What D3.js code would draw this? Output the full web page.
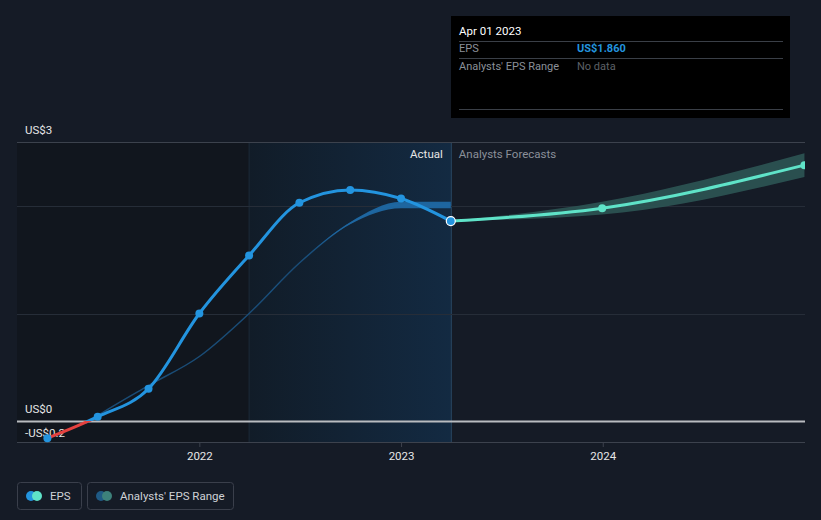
<!DOCTYPE html>
<html><head><meta charset="utf-8">
<script src="https://cdn.jsdelivr.net/npm/d3@7/dist/d3.min.js"></script>
<style>
html,body{margin:0;padding:0;background:#151b26;}
svg{display:block;font-family:Roboto,"Noto Sans",sans-serif;}
</style></head><body>
<svg id="c" width="821" height="520"></svg>
<script>
// ---- data ----
const actualDates = ["2021-04-01","2021-07-01","2021-10-01","2022-01-01","2022-04-01","2022-07-01","2022-10-01","2023-01-01","2023-04-01"];
const epsActual   = [-0.16, 0.04, 0.30, 1.00, 1.54, 2.03, 2.15, 2.07, 1.86];
const pastEstDates = ["2021-06-10","2021-07-01","2021-10-01","2022-01-01","2022-04-01","2022-07-01","2022-10-01","2023-01-01","2023-04-01"];
const pastEst      = [-0.02, 0.05, 0.33, 0.60, 1.00, 1.47, 1.84, 2.01, 2.01];
const pastEstLow   = [-0.02, 0.05, 0.33, 0.60, 1.00, 1.47, 1.83, 1.98, 1.98];
const pastEstHigh  = [-0.02, 0.05, 0.33, 0.60, 1.00, 1.47, 1.85, 2.04, 2.04];
const fcDates = ["2023-04-01","2023-12-31","2024-12-31"];
const fcEps   = [1.86, 1.98, 2.38];
const fcLow   = [1.86, 1.92, 2.27];
const fcHigh  = [1.86, 2.04, 2.49];
const yTickVals = [0, 1, 2, 2.6];
const yLabels = [{v:2.6, t:"US$3"},{v:0, t:"US$0"},{v:-0.2, t:"-US$0.2"}];
const xTicks = ["2022-01-01","2023-01-01","2024-01-01"];
const xTickLabels = ["2022","2023","2024"];
const regionStart = "2022-04-01", todayDate = "2023-04-01";

const P = d3.timeParse("%Y-%m-%d");
const svg = d3.select("#c");
const L = 17, R = 805, T = 142, B = 442;
const x = d3.scaleTime().domain([P("2021-02-05"), P("2025-01-01")]).range([L, R]);
const y = d3.scaleLinear().domain([-0.2, 2.6]).range([442.5, 141.5]);

const defs = svg.append("defs");
const g1 = defs.append("linearGradient").attr("id","hl").attr("x1","0").attr("x2","1");
g1.append("stop").attr("offset","0").attr("stop-color","#111c28");
g1.append("stop").attr("offset","1").attr("stop-color","#132a42");
defs.append("clipPath").attr("id","plot").append("rect").attr("x",L).attr("y",0).attr("width",R-L).attr("height",B);
defs.append("clipPath").attr("id","pos").append("rect").attr("x",0).attr("y",0).attr("width",821).attr("height",y(0));
defs.append("clipPath").attr("id","neg").append("rect").attr("x",0).attr("y",y(0)).attr("width",821).attr("height",200);

// background regions
svg.append("rect").attr("x",L).attr("y",T).attr("width",x(P(regionStart))-L).attr("height",B-T).attr("fill","#11161e");
svg.append("rect").attr("x",x(P(regionStart))).attr("y",T).attr("width",x(P(todayDate))-x(P(regionStart))).attr("height",B-T).attr("fill","url(#hl)");
svg.append("line").attr("x1",x(P(regionStart))).attr("x2",x(P(regionStart))).attr("y1",T).attr("y2",B).attr("stroke","#1c2a38").attr("stroke-width",1);
svg.append("line").attr("x1",x(P(todayDate))+0.5).attr("x2",x(P(todayDate))+0.5).attr("y1",T).attr("y2",B).attr("stroke","#2a4a66").attr("stroke-width",1);

// gridlines
svg.append("g").selectAll("line").data(yTickVals).join("line")
  .attr("x1",L).attr("x2",R).attr("y1",d=>Math.round(y(d))+0.5).attr("y2",d=>Math.round(y(d))+0.5)
  .attr("stroke",d=>d===0?"#b9bcc0":(d===2.6?"#3c424d":"#262d38")).attr("stroke-width",d=>d===0?2:1);

// x axis
const xa = svg.append("g").attr("transform",`translate(0,${B})`)
  .call(d3.axisBottom(x).tickValues(xTicks.map(P)).tickFormat((d,i)=>xTickLabels[i]).tickSize(5).tickPadding(5));
xa.select(".domain").remove();
xa.insert("line",":first-child").attr("x1",L).attr("x2",R).attr("y1",0.5).attr("y2",0.5).attr("stroke","#3c424d");
xa.selectAll(".tick line").attr("stroke","#3c424d");
xa.selectAll(".tick text").attr("fill","#e6e6e6").attr("font-size",11.5).attr("font-family","Roboto,sans-serif");

// y labels
svg.append("g").selectAll("text").data(yLabels).join("text")
  .attr("x",25).attr("y",d=>y(d.v)-(d.v===-0.2?6:8)).attr("fill","#e6e6e6").attr("font-size",11.5).text(d=>d.t);

// region labels
svg.append("text").attr("x",x(P(todayDate))-8).attr("y",158).attr("text-anchor","end").attr("fill","#e6e6e6").attr("font-size",11.5).text("Actual");
svg.append("text").attr("x",x(P(todayDate))+8).attr("y",158).attr("fill","#8b9099").attr("font-size",11.5).text("Analysts Forecasts");

const plot = svg.append("g").attr("clip-path","url(#plot)");

// past analyst estimate line and band
const pe = pastEstDates.map((d,i)=>({d:P(d),v:pastEst[i],lo:pastEstLow[i],hi:pastEstHigh[i]}));
plot.append("path").datum(pe).attr("fill","none").attr("stroke","#1a4c76").attr("stroke-width",1.5)
  .attr("d",d3.line().x(d=>x(d.d)).y(d=>y(d.v)).curve(d3.curveMonotoneX));
plot.append("path").datum(pe).attr("fill","#1f68a3").attr("opacity",0.95)
  .attr("d",d3.area().x(d=>x(d.d)).y0(d=>y(d.lo)).y1(d=>y(d.hi)).curve(d3.curveMonotoneX));

// forecast band and line
const fc = fcDates.map((d,i)=>({d:P(d),v:fcEps[i],lo:fcLow[i],hi:fcHigh[i]}));
plot.append("path").datum(fc).attr("fill","#2c5554").attr("opacity",0.9)
  .attr("d",d3.area().x(d=>x(d.d)).y0(d=>y(d.lo)).y1(d=>y(d.hi)).curve(d3.curveMonotoneX));
plot.append("path").datum(fc).attr("fill","none").attr("stroke","#5fe3c8").attr("stroke-width",3)
  .attr("d",d3.line().x(d=>x(d.d)).y(d=>y(d.v)).curve(d3.curveMonotoneX));

// actual EPS line
const ac = actualDates.map((d,i)=>({d:P(d),v:epsActual[i]}));
const aline = d3.line().x(d=>x(d.d)).y(d=>y(d.v)).curve(d3.curveMonotoneX);
svg.append("path").datum(ac).attr("fill","none").attr("stroke","#2394df").attr("stroke-width",3).attr("clip-path","url(#pos)").attr("d",aline);
svg.append("path").datum(ac).attr("fill","none").attr("stroke","#e5413f").attr("stroke-width",3).attr("clip-path","url(#neg)").attr("d",aline);

// dots
svg.append("g").selectAll("circle").data(ac.slice(0,-1)).join("circle")
  .attr("cx",d=>x(d.d)).attr("cy",d=>y(d.v)).attr("r",4).attr("fill","#2394df");
plot.append("g").selectAll("circle").data(fc.slice(1)).join("circle")
  .attr("cx",d=>x(d.d)).attr("cy",d=>y(d.v)).attr("r",4).attr("fill","#5fe3c8");
const last = ac[ac.length-1];
svg.append("circle").attr("cx",x(last.d)).attr("cy",y(last.v)).attr("r",4.5).attr("fill","#2394df").attr("stroke","#ffffff").attr("stroke-width",1.2);

// tooltip
const tt = svg.append("g");
tt.append("rect").attr("x",451).attr("y",16).attr("width",339).attr("height",102).attr("fill","#000");
tt.append("text").attr("x",459).attr("y",35).attr("fill","#ffffff").attr("font-size",11.5).text("Apr 01 2023");
[41.5,58.5,109.5].forEach(v=>tt.append("line").attr("x1",459).attr("x2",783).attr("y1",v).attr("y2",v).attr("stroke","#3a3f47"));
tt.append("text").attr("x",459).attr("y",52).attr("fill","#8b9099").attr("font-size",11).text("EPS");
tt.append("text").attr("x",577).attr("y",52).attr("fill","#2394df").attr("font-size",11).attr("font-weight","bold").text("US$" + epsActual[epsActual.length-1].toFixed(3));
tt.append("text").attr("x",459).attr("y",70).attr("fill","#8b9099").attr("font-size",11).text("Analysts' EPS Range");
tt.append("text").attr("x",577).attr("y",70).attr("fill","#5d6167").attr("font-size",11).text("No data");

// legend
const lg = svg.append("g");
const items = [{x:17,w:64,c1:"#2394df",c2:"#5fe3c8",t:"EPS"},{x:87,w:146,c1:"#1f5a85",c2:"#3d817b",t:"Analysts' EPS Range"}];
items.forEach(it=>{
  lg.append("rect").attr("x",it.x+0.5).attr("y",482.5).attr("width",it.w).attr("height",27).attr("rx",3).attr("fill","none").attr("stroke","#3a3f4b");
  lg.append("circle").attr("cx",it.x+14).attr("cy",496).attr("r",5).attr("fill",it.c1);
  lg.append("circle").attr("cx",it.x+20).attr("cy",496).attr("r",5).attr("fill",it.c2);
  lg.append("text").attr("x",it.x+33).attr("y",500).attr("fill","#cfd2d6").attr("font-size",11.5).text(it.t);
});
</script></body></html>
